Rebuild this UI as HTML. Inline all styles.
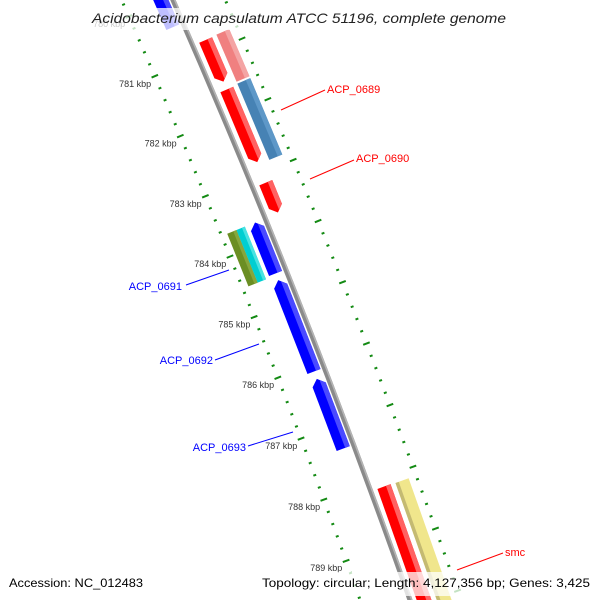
<!DOCTYPE html>
<html><head><meta charset="utf-8"><style>
html,body{margin:0;padding:0;background:#fff;width:600px;height:600px;overflow:hidden}
svg{display:block;overflow:hidden}
</style></head><body>
<svg id="map" width="600" height="600" viewBox="0 0 600 600" overflow="hidden" xmlns="http://www.w3.org/2000/svg" font-family="'Liberation Sans', 'DejaVu Sans', sans-serif">
<rect width="600" height="600" fill="#fff"/>
<g id="ticks"></g>
<g id="backbone"></g>
<g id="features"></g>
<g id="labels" font-size="9" fill="#333"></g>
<g font-size="11">
  <line x1="281" y1="110" x2="325" y2="90" stroke="#ff0000" stroke-width="1"/>
  <text x="327" y="93" fill="#ff0000">ACP_0689</text>
  <line x1="310" y1="179" x2="354" y2="160" stroke="#ff0000" stroke-width="1"/>
  <text x="356" y="162" fill="#ff0000">ACP_0690</text>
  <line x1="186" y1="285" x2="229" y2="270" stroke="#0000ff" stroke-width="1"/>
  <text x="182" y="290" text-anchor="end" fill="#0000ff">ACP_0691</text>
  <line x1="215" y1="360" x2="259" y2="344" stroke="#0000ff" stroke-width="1"/>
  <text x="213" y="364" text-anchor="end" fill="#0000ff">ACP_0692</text>
  <line x1="248" y1="446" x2="293" y2="432" stroke="#0000ff" stroke-width="1"/>
  <text x="246" y="451" text-anchor="end" fill="#0000ff">ACP_0693</text>
  <line x1="457" y1="570" x2="503" y2="553" stroke="#ff0000" stroke-width="1"/>
  <text x="505" y="556" fill="#ff0000">smc</text>
</g>
<rect x="0" y="8" width="600" height="22" fill="#fff" fill-opacity="0.75"/>
<text x="92" y="23" font-size="14" font-style="italic" fill="#222" textLength="414" lengthAdjust="spacingAndGlyphs">Acidobacterium capsulatum ATCC 51196, complete genome</text>
<rect x="4" y="572" width="144" height="24" fill="#fff" fill-opacity="0.75"/>
<text x="9" y="587" font-size="12" fill="#000" textLength="134" lengthAdjust="spacingAndGlyphs">Accession: NC_012483</text>
<rect x="257" y="572" width="340" height="24" fill="#fff" fill-opacity="0.75"/>
<text x="262" y="587" font-size="12" fill="#000" textLength="328" lengthAdjust="spacingAndGlyphs">Topology: circular; Length: 4,127,356 bp; Genes: 3,425</text>
</svg>
<script>
// ---- data ----
const featNames = ['blue-top','ACP_0688a','ACP_0688b','ACP_0689a','ACP_0689b','ACP_0690','ACP_0691a','ACP_0691b','ACP_0691','ACP_0692','ACP_0693','smc','smc-cog'];
const featStart = [779.4, 780.80, 780.79, 781.62, 781.60, 783.16, 783.66, 783.66, 783.66, 784.61, 786.23, 788.13, 788.14];
const featEnd   = [780.42, 781.49, 781.57, 782.82, 782.86, 783.65, 784.53, 784.53, 784.50, 786.11, 787.37, 791.5, 791.5];
const featTrack = ['rev','fwd1','fwd2','fwd1','fwd2','fwd1','rev2a','rev2b','rev','rev','rev','fwd1','fwd2'];
const featDir   = [-1, 1, 0, 1, 0, 1, 0, 0, -1, -1, -1, 1, 0];
const featColor = ['#0000ff','#ff0000','#f08080','#ff0000','#4682b4','#ff0000','#6b8e23','#00ced1','#0000ff','#0000ff','#0000ff','#ff0000','#f0e68c'];
const featShade = ['#4a4aff','#ff6262','#f4a4a4','#ff6262','#5e98c8','#ff6262','#86a63c','#48e2e2','#4a4aff','#4a4aff','#4a4aff','#ff6262','#c4ba72'];
const rulerLabels = [780,781,782,783,784,785,786,787,788,789];

// ---- axis (circular map) ----
const CX=-7708, CY=3460, T0=-0.4064, DT=0.00761;
const trackR = {rev:[8589,8603], rev2a:[8566,8576], rev2b:[8576,8585], fwd1:[8614,8628], fwd2:[8633,8647]};
const R_INNER=8560, R_OUTER=8655, R_BACK=8607;
function ang(k){return T0+(k-781)*DT;}
function pt(k,r){const a=ang(k);return [CX+r*Math.cos(a), CY+r*Math.sin(a)];}
function P(list){return list.map(p=>p[0].toFixed(2)+','+p[1].toFixed(2)).join(' ');}
const NS='http://www.w3.org/2000/svg';

// backbone
const bb=document.getElementById('backbone');
[[R_BACK,5,'#8a8a8a'],[R_BACK+1.6,1.6,'#b4b4b4']].forEach((s,i)=>{
  const c=document.createElementNS(NS,'circle');
  c.setAttribute('cx',CX);c.setAttribute('cy',CY);c.setAttribute('r',s[0]);
  c.setAttribute('fill','none');c.setAttribute('stroke',s[2]);c.setAttribute('stroke-width',s[1]);
  
  
  bb.appendChild(c);
});

// ticks
const tg=document.getElementById('ticks');
for(let i=0;i<=65;i++){
  const k=779+i*0.2;
  const major=(i%5===0);
  const half=major?3.5:1.5;
  [R_INNER,R_OUTER].forEach((R,j)=>{
    const a=pt(k,R-half),b=pt(k,R+half);
    const l=document.createElementNS(NS,'line');
    l.setAttribute('x1',a[0]);l.setAttribute('y1',a[1]);l.setAttribute('x2',b[0]);l.setAttribute('y2',b[1]);
    l.setAttribute('stroke','#138a13');l.setAttribute('stroke-width',2);
    
    
    tg.appendChild(l);
  });
}
// ruler labels
const lg=document.getElementById('labels');
rulerLabels.forEach(k=>{
  const p=pt(k,R_INNER-4);
  const t=document.createElementNS(NS,'text');
  t.setAttribute('x',p[0].toFixed(1));t.setAttribute('y',(p[1]+9).toFixed(1));
  t.setAttribute('text-anchor','end');
  t.textContent=k+' kbp';
  
  
  lg.appendChild(t);
});

// features
const fg=document.getElementById('features');
const H=0.1;
featStart.forEach((k0,i)=>{
  const k1=featEnd[i];
  const [r1,r2]=trackR[featTrack[i]];
  const rm=(r1+r2)/2, d=featDir[i];
  let main, shade;
  const isYellow = featColor[i]==='#f0e68c';
  const s1 = isYellow ? r1 : r2-(r2-r1)*0.35;
  const s2 = isYellow ? r1+(r2-r1)*0.25 : r2;
  if(d===1){
    main=[pt(k0,r1),pt(k0,r2),pt(k1-H,r2),pt(k1,rm),pt(k1-H,r1)];
    shade=[pt(k0,s1),pt(k0,s2),pt(k1-H,s2),pt(k1-H*0.35,s1)];
  }else if(d===-1){
    main=[pt(k0,rm),pt(k0+H,r2),pt(k1,r2),pt(k1,r1),pt(k0+H,r1)];
    shade=[pt(k0+H*0.35,s1),pt(k0+H,s2),pt(k1,s2),pt(k1,s1)];
  }else{
    main=[pt(k0,r1),pt(k0,r2),pt(k1,r2),pt(k1,r1)];
    shade=[pt(k0,s1),pt(k0,s2),pt(k1,s2),pt(k1,s1)];
  }
  const g=document.createElementNS(NS,'g');
  
  
  const a=document.createElementNS(NS,'polygon');
  a.setAttribute('points',P(main));a.setAttribute('fill',featColor[i]);
  
  
  const b=document.createElementNS(NS,'polygon');
  b.setAttribute('points',P(shade));b.setAttribute('fill',featShade[i]);
  
  
  g.appendChild(a);g.appendChild(b);fg.appendChild(g);
});
</script>
</body></html>
